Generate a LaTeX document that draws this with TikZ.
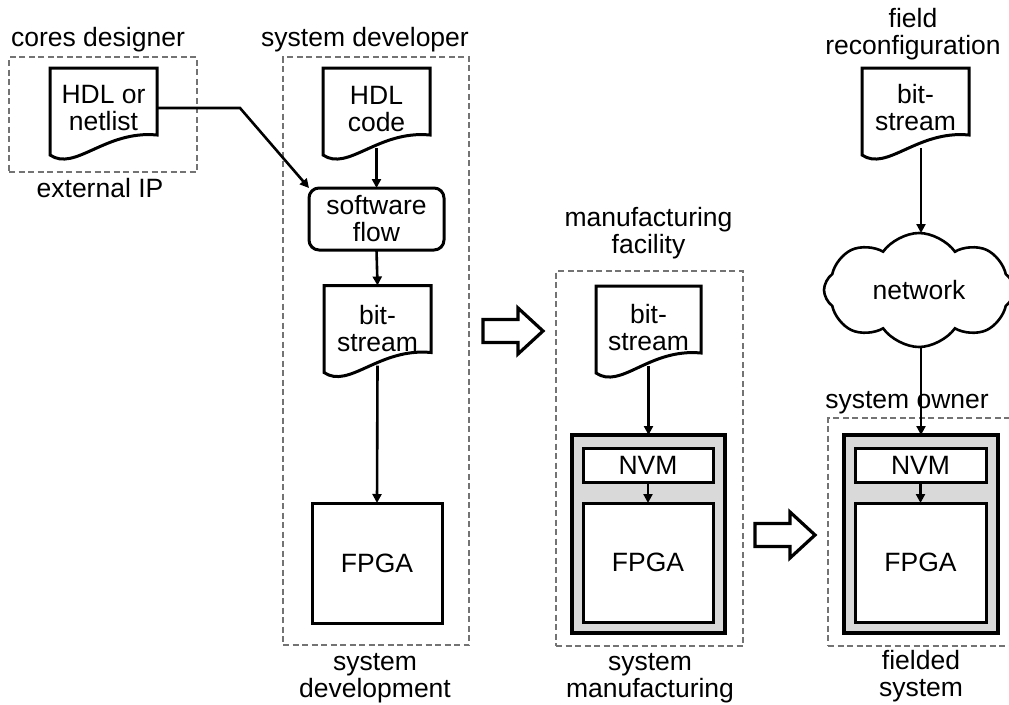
\documentclass[tikz,border=0pt]{standalone}
\usepackage{fontspec}
\setmainfont{Liberation Sans}
\usetikzlibrary{arrows.meta,shapes.symbols,calc}
\newcommand\docoutline[1]{\draw[docline] (#1.north west) -- (#1.north east) -- ([yshift=20pt]#1.south east) .. controls ([xshift=-52pt,yshift=25pt]#1.south east) and ([xshift=25pt,yshift=-17pt]#1.south west) .. (#1.south west) -- cycle;}
\begin{document}
\begin{tikzpicture}[x=1pt,y=-1pt,
  every node/.style={font=\fontsize{26.5}{27}\selectfont, inner sep=0pt, outer sep=0pt},
  docline/.style={line width=3pt, line join=miter, fill=white},
  docnode/.style={minimum width=107pt, minimum height=87pt, align=center},
  boxnode/.style={draw, line width=3pt, fill=white, align=center},
  graybox/.style={draw, line width=3.4pt, fill=gray!30},
  dashbox/.style={draw=black!55, line width=1.8pt, dash pattern=on 6pt off 3.5pt},
  conn/.style={line width=2.6pt, -{Triangle[length=9pt,width=9pt]}},
  hollow/.style={line width=3.2pt, fill=white, line join=miter},
  lbl/.style={align=center}
]
\clip (0,0) rectangle (1009,704);
\useasboundingbox (0,0) rectangle (1009,704);

% dashed containers
\node[dashbox, minimum width=188pt, minimum height=115pt] (box1) at (103,114.5) {};
\node[dashbox, minimum width=186pt, minimum height=588pt] (box2) at (376,351) {};
\node[dashbox, minimum width=187pt, minimum height=375pt] (box3) at (649.5,458.5) {};
\node[dashbox, minimum width=186pt, minimum height=228pt] (box4) at (921,532) {};

% labels
\node[anchor=base] (lcores) at (98,46) {cores designer};
\node[anchor=base] (lext) at (100,197) {external IP};
\node[anchor=base] (ldev) at (365,46) {system developer};
\node[lbl] (lfield) at (913,34) {field\\reconfiguration};
\node[lbl] (lmfac) at (648.5,233) {manufacturing\\facility};
\node[anchor=base] (lowner) at (907,408) {system owner};
\node[lbl] (lsysdev) at (375,678) {system\\development};
\node[lbl] (lsysman) at (650,678) {system\\manufacturing};
\node[lbl] (lfielded) at (921,676) {fielded\\system};

% documents
\node[docnode] (hdl1) at (103.5,111.5) {};
\docoutline{hdl1}
\node[lbl] (thdl1) at (103.5,108.5) {HDL or\\netlist};

\node[docnode] (hdl2) at (376.5,111.5) {};
\docoutline{hdl2}
\node[lbl] (thdl2) at (376.5,109) {HDL\\code};

\node[docnode] (bs1) at (377.5,329) {};
\docoutline{bs1}
\node[lbl] (tbs1) at (377.5,328.5) {bit-\\stream};

\node[docnode, minimum width=105pt] (bs2) at (648.5,329.5) {};
\docoutline{bs2}
\node[lbl] (tbs2) at (648.5,327.5) {bit-\\stream};

\node[docnode] (bs3) at (915.5,111.5) {};
\docoutline{bs3}
\node[lbl] (tbs3) at (915.5,108) {bit-\\stream};

% software flow and FPGA 1
\node[boxnode, rounded corners=10pt, minimum width=135pt, minimum height=62pt] (sw) at (376.5,219) {software\\flow};
\node[boxnode, minimum width=130pt, minimum height=120pt] (fpga1) at (377,563) {FPGA};

% manufactured systems
\node[graybox, minimum width=153pt, minimum height=198pt] (gray2) at (648.5,534) {};
\node[boxnode, minimum width=130pt, minimum height=34pt] (nvm2) at (648,465) {NVM};
\node[boxnode, minimum width=130pt, minimum height=119pt] (fpga2) at (648,562.5) {FPGA};

\node[graybox, minimum width=154pt, minimum height=198pt] (gray3) at (921,534) {};
\node[boxnode, minimum width=131pt, minimum height=34pt] (nvm3) at (920.5,465) {NVM};
\node[boxnode, minimum width=131pt, minimum height=119pt] (fpga3) at (920.5,562.5) {FPGA};

% cloud
\node[cloud, draw, line width=2.6pt, fill=white, cloud puffs=8, cloud puff arc=110, aspect=1.7, minimum width=190pt, minimum height=114pt] (net) at (919,290) {network};

% connectors
\coordinate (bend) at (240,108);
\draw[conn] (hdl1.east |- bend) -- (bend) -- (sw.north west);
\draw[conn] ([yshift=7pt]hdl2.south) -- (sw.north);
\draw[conn] (sw.south) -- (bs1.north);
\draw[conn] ([yshift=7pt]bs1.south) -- (fpga1.north);
\draw[conn] ([yshift=7pt]bs2.south) -- (gray2.north);
\draw[conn] (nvm2.south) -- (fpga2.north);
\draw[conn] ([yshift=7pt]bs3.south -| gray3.north) -- (net.north -| gray3.north);
\draw[conn] (net.south -| gray3.north) -- (gray3.north);
\draw[conn] (nvm3.south) -- (fpga3.north);

% hollow stage arrows
\coordinate (ha) at (483,331);
\draw[hollow] ($(ha)+(0,-11.5)$) -- ++(35,0) -- ++(0,-11.5) -- ++(25,23) -- ++(-25,23) -- ++(0,-11.5) -- ++(-35,0) -- cycle;
\coordinate (hb) at (755,535);
\draw[hollow] ($(hb)+(0,-11.5)$) -- ++(35,0) -- ++(0,-11.5) -- ++(25,23) -- ++(-25,23) -- ++(0,-11.5) -- ++(-35,0) -- cycle;
\end{tikzpicture}
\end{document}
